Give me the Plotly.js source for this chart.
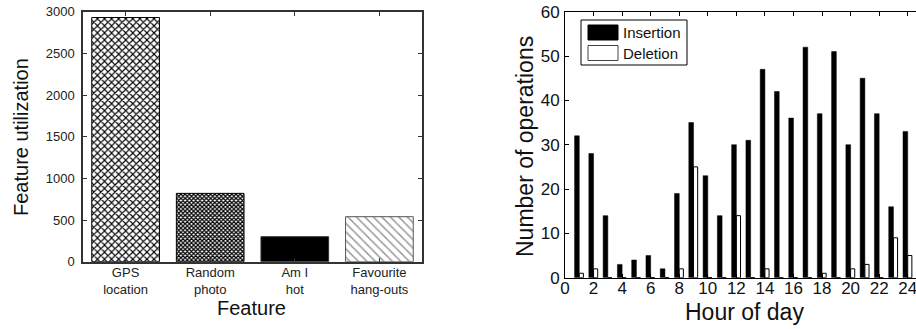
<!DOCTYPE html>
<html>
<head>
<meta charset="utf-8">
<script src="https://cdn.plot.ly/plotly-3.0.1.min.js"></script>
<style>
  html, body { margin: 0; padding: 0; background: #fff; overflow: hidden; }
  #chart { width: 916px; height: 329px; }
</style>
</head>
<body>
<div id="chart"></div>
<script>
// Feature usage counts
const featureLabels = ['GPS<br>location', 'Random<br>photo', 'Am I<br>hot', 'Favourite<br>hang-outs'];
const featureUtilization = [2930, 820, 300, 540];

// Operations per hour of day
const hours = [1, 2, 3, 4, 5, 6, 7, 8, 9, 10, 11, 12, 13, 14, 15, 16, 17, 18, 19, 20, 21, 22, 23, 24];
const insertions = [32, 28, 14, 3, 4, 5, 2, 19, 35, 23, 14, 30, 31, 47, 42, 36, 52, 37, 51, 30, 45, 37, 16, 33];
const deletions  = [1, 2, 0, 0, 0, 0, 0, 2, 25, 0, 0, 14, 0, 2, 0, 0, 0, 1, 0, 2, 3, 0, 9, 5];

const W = 916, H = 329;
const px = x => x / W;          // pixel -> paper x
const py = y => 1 - y / H;      // pixel -> paper y
const FONT = 'Liberation Sans, Arial, Helvetica, sans-serif';

// fill style for each feature bar
const featureStyles = [
  { color: '#fff', line: '#000', pattern: { shape: 'x', fgcolor: '#000', bgcolor: '#fff', size: 5, solidity: 0.4 } },
  { color: '#fff', line: '#000', pattern: { shape: 'x', fgcolor: '#000', bgcolor: '#fff', size: 3, solidity: 0.65 } },
  { color: '#000', line: '#333', pattern: null },
  { color: '#fff', line: '#555', pattern: { shape: '\\', fgcolor: '#999', bgcolor: '#fff', size: 6, solidity: 0.25 } }
];

const traces = featureLabels.map((label, i) => {
  const st = featureStyles[i];
  const marker = { color: st.color, line: { color: st.line, width: 1 } };
  if (st.pattern) marker.pattern = st.pattern;
  return {
    type: 'bar', x: [label], y: [featureUtilization[i]],
    xaxis: 'x', yaxis: 'y', width: 0.8, showlegend: false, marker: marker
  };
});

traces.push(
  {
    type: 'bar', name: 'Insertion', x: hours, y: insertions,
    xaxis: 'x2', yaxis: 'y2', width: 0.33, offset: -0.33, showlegend: false,
    marker: { color: '#000', line: { color: '#000', width: 0.5 } }
  },
  {
    type: 'bar', name: 'Deletion', x: hours, y: deletions,
    xaxis: 'x2', yaxis: 'y2', width: 0.29, offset: 0, showlegend: false,
    marker: { color: '#fff', line: { color: '#000', width: 1 } }
  }
);

const axisCommon = {
  showgrid: false, zeroline: false, showline: true,
  ticks: 'inside', fixedrange: true, automargin: false
};

const layout = {
  width: W, height: H,
  margin: { l: 0, r: 0, t: 0, b: 0 },
  paper_bgcolor: '#fff', plot_bgcolor: '#fff',
  font: { family: FONT, color: '#111' },
  barmode: 'overlay',
  showlegend: false,
  xaxis: Object.assign({}, axisCommon, {
    domain: [px(83.3), px(421.7)], anchor: 'y',
    type: 'category', categoryorder: 'array', categoryarray: featureLabels, mirror: 'ticks',
    linecolor: '#333', linewidth: 2, tickcolor: '#333', ticklen: 4,
    tickfont: { size: 13, color: '#222' }, ticklabelstandoff: -2
  }),
  yaxis: Object.assign({}, axisCommon, {
    domain: [py(261.7), py(11.7)], anchor: 'x',
    range: [0, 3000], tickvals: [0, 500, 1000, 1500, 2000, 2500, 3000],
    mirror: 'ticks', linecolor: '#333', linewidth: 2, tickcolor: '#333', ticklen: 4,
    tickfont: { size: 13, color: '#222' }, ticklabelstandoff: 4
  }),
  xaxis2: Object.assign({}, axisCommon, {
    domain: [px(565), 1], anchor: 'y2',
    range: [0, 24.58], tickvals: [0, 2, 4, 6, 8, 10, 12, 14, 16, 18, 20, 22, 24],
    mirror: 'ticks', linecolor: '#000', linewidth: 1, tickcolor: '#000', ticklen: 4,
    tickfont: { size: 17, color: '#111' }, ticklabelstandoff: -5,
    ticklabeloverflow: 'allow'
  }),
  yaxis2: Object.assign({}, axisCommon, {
    domain: [py(277.7), py(11.7)], anchor: 'x2',
    range: [0, 60], tickvals: [0, 10, 20, 30, 40, 50, 60],
    mirror: false, linecolor: '#000', linewidth: 1, tickcolor: '#000', ticklen: 4,
    tickfont: { size: 17, color: '#111' }, ticklabelstandoff: 1
  }),
  shapes: [
    // legend frame and swatches
    { type: 'rect', xref: 'paper', yref: 'paper', x0: px(581), x1: px(687), y0: py(65), y1: py(20),
      line: { color: '#000', width: 1 }, fillcolor: '#fff' },
    { type: 'rect', xref: 'paper', yref: 'paper', x0: px(588), x1: px(618), y0: py(40), y1: py(25),
      line: { color: '#000', width: 1 }, fillcolor: '#000' },
    { type: 'rect', xref: 'paper', yref: 'paper', x0: px(588), x1: px(618), y0: py(60.5), y1: py(45.5),
      line: { color: '#444', width: 1 }, fillcolor: '#fff' }
  ],
  annotations: [
    { text: 'Feature utilization', xref: 'paper', yref: 'paper', x: px(21), y: py(137),
      textangle: -90, showarrow: false, xanchor: 'center', yanchor: 'middle',
      font: { size: 20, color: '#111' } },
    { text: 'Feature', xref: 'paper', yref: 'paper', x: px(252), y: py(308),
      showarrow: false, xanchor: 'center', yanchor: 'middle',
      font: { size: 20, color: '#111' } },
    { text: 'Number of operations', xref: 'paper', yref: 'paper', x: px(525), y: py(147),
      textangle: -90, showarrow: false, xanchor: 'center', yanchor: 'middle',
      font: { size: 23, color: '#111' } },
    { text: 'Hour of day', xref: 'paper', yref: 'paper', x: px(744), y: py(312),
      showarrow: false, xanchor: 'center', yanchor: 'middle',
      font: { size: 23, color: '#111' } },
    { text: 'Insertion', xref: 'paper', yref: 'paper', x: px(621), y: py(32.5),
      showarrow: false, xanchor: 'left', yanchor: 'middle',
      font: { size: 15, color: '#111' } },
    { text: 'Deletion', xref: 'paper', yref: 'paper', x: px(621), y: py(53),
      showarrow: false, xanchor: 'left', yanchor: 'middle',
      font: { size: 15, color: '#111' } }
  ]
};

Plotly.newPlot('chart', traces, layout, { staticPlot: true, displayModeBar: false });
</script>
</body>
</html>
